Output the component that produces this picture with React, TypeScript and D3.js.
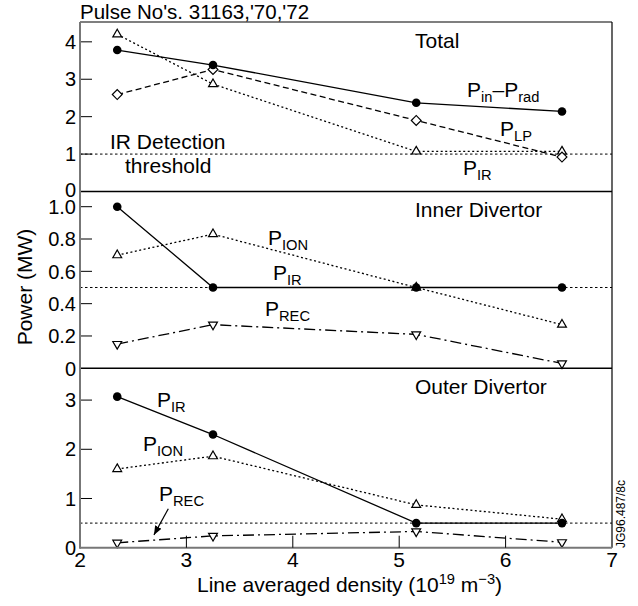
import React, { useEffect, useRef } from 'react';
import * as d3 from 'd3';

// density of the four pulses (10^19 m^-3)
const density = [2.35, 3.25, 5.16, 6.53];
const xTicks = [2, 3, 4, 5, 6, 7];

// Total
const totalPinPrad = [3.78, 3.38, 2.37, 2.14];
const totalPLP = [2.59, 3.26, 1.9, 0.92];
const totalPIR = [4.2, 2.87, 1.07, 1.07];
const totalTicks = [0, 1, 2, 3, 4];

// Inner divertor
const innerPIR = [1.0, 0.5, 0.5, 0.5];
const innerPION = [0.7, 0.83, 0.5, 0.27];
const innerPREC = [0.15, 0.27, 0.21, 0.03];
const innerTicks = [0, 0.2, 0.4, 0.6, 0.8, 1.0];

// Outer divertor
const outerPIR = [3.07, 2.3, 0.5, 0.5];
const outerPION = [1.6, 1.86, 0.87, 0.58];
const outerPREC = [0.1, 0.24, 0.33, 0.11];
const outerTicks = [0, 1, 2, 3];

const irThreshold = [1, 0.5, 0.5];

const FONT = "'Liberation Sans', Arial, Helvetica, sans-serif";
const LABEL = 21;

type Part = { t: string; sub?: boolean; sup?: boolean };

const App = () => {
  const svgRef = useRef<SVGSVGElement>(null);

  useEffect(() => {
    const width = 638;
    const height = 606;
    const left = 80;
    const right = 612;
    const top = 22;
    const bottom = 547.7;

    d3.select(svgRef.current).selectAll('*').remove();
    const svg = d3.select(svgRef.current)
      .attr('width', width)
      .attr('height', height)
      .attr('font-family', FONT);

    const x = d3.scaleLinear().domain([2, 7]).range([left, right]);

    // text with sub/superscripts
    const rich = (g: any, px: number, py: number, parts: Part[], size = LABEL, anchor = 'start') => {
      const t = g.append('text')
        .attr('x', px)
        .attr('y', py)
        .attr('font-size', size)
        .attr('text-anchor', anchor)
        .attr('fill', '#000');
      let shift = 0;
      parts.forEach(p => {
        const want = p.sub ? 5 : p.sup ? -8 : 0;
        const s = t.append('tspan').text(p.t).attr('dy', want - shift);
        if (p.sub || p.sup) s.attr('font-size', size * 0.7);
        shift = want;
      });
      return t;
    };

    const panels = [
      {
        max: 4.53, y0: 191.5, y1: top, ticks: totalTicks, fmt: (d: number) => String(d),
        threshold: irThreshold[0],
        series: [
          { values: totalPIR, dash: '2,2.5', marker: 'tri' },
          { values: totalPLP, dash: '6,3.5', marker: 'diamond' },
          { values: totalPinPrad, dash: null, marker: 'circle' },
        ],
      },
      {
        max: 1.094, y0: 368.3, y1: 191.5, ticks: innerTicks, fmt: (d: number) => (d === 0 ? '0' : d.toFixed(1)),
        threshold: irThreshold[1],
        series: [
          { values: innerPION, dash: '2,2.5', marker: 'tri' },
          { values: innerPREC, dash: '11,4,2,4', marker: 'triDown' },
          { values: innerPIR, dash: null, marker: 'circle' },
        ],
      },
      {
        max: 3.646, y0: bottom, y1: 368.3, ticks: outerTicks, fmt: (d: number) => String(d),
        threshold: irThreshold[2],
        series: [
          { values: outerPION, dash: '2,2.5', marker: 'tri' },
          { values: outerPREC, dash: '11,4,2,4', marker: 'triDown' },
          { values: outerPIR, dash: null, marker: 'circle' },
        ],
      },
    ];

    const triangle = d3.symbol().type(d3.symbolTriangle).size(34);
    const square = d3.symbol().type(d3.symbolSquare).size(48);

    const scales = panels.map((p, pi) => {
      const y = d3.scaleLinear().domain([0, p.max]).range([p.y0, p.y1]);
      const g = svg.append('g');

      // IR detection threshold
      g.append('line')
        .attr('x1', left).attr('x2', right)
        .attr('y1', y(p.threshold)).attr('y2', y(p.threshold))
        .attr('stroke', '#000')
        .attr('stroke-width', 1)
        .attr('stroke-dasharray', '2.5,2.5');

      // y ticks (inward) + labels
      p.ticks.forEach(t => {
        if (t > 0) {
          g.append('line')
            .attr('x1', left).attr('x2', left + 12)
            .attr('y1', y(t)).attr('y2', y(t))
            .attr('stroke', '#000')
            .attr('stroke-width', 1);
        }
        // the zero of the top panel sits just above the middle panel's 1.0
        const nudge = pi === 0 && t === 0 ? -2 : 0;
        g.append('text')
          .attr('x', left - 4)
          .attr('y', y(t) + nudge)
          .attr('dy', '0.36em')
          .attr('text-anchor', 'end')
          .attr('font-size', 20)
          .text(p.fmt(t));
      });

      const line = d3.line<number>()
        .x((d, i) => x(density[i]))
        .y(d => y(d));

      p.series.forEach(s => {
        g.append('path')
          .datum(s.values)
          .attr('d', line)
          .attr('fill', 'none')
          .attr('stroke', '#000')
          .attr('stroke-width', 1.3)
          .attr('stroke-dasharray', s.dash);
      });

      p.series.forEach(s => {
        s.values.forEach((v, i) => {
          const cx = x(density[i]);
          const cy = y(v);
          if (s.marker === 'circle') {
            g.append('circle').attr('cx', cx).attr('cy', cy).attr('r', 4.3).attr('fill', '#000');
          } else if (s.marker === 'tri') {
            g.append('path').attr('d', triangle()).attr('transform', `translate(${cx},${cy})`)
              .attr('fill', '#fff').attr('stroke', '#000').attr('stroke-width', 1.2);
          } else if (s.marker === 'triDown') {
            g.append('path').attr('d', triangle()).attr('transform', `translate(${cx},${cy}) rotate(180)`)
              .attr('fill', '#fff').attr('stroke', '#000').attr('stroke-width', 1.2);
          } else {
            g.append('path').attr('d', square()).attr('transform', `translate(${cx},${cy}) rotate(45)`)
              .attr('fill', '#fff').attr('stroke', '#000').attr('stroke-width', 1.2);
          }
        });
      });
      return y;
    });

    // frame
    svg.append('line').attr('x1', left).attr('x2', right).attr('y1', top).attr('y2', top)
      .attr('stroke', '#000').attr('stroke-width', 1.2);
    svg.append('line').attr('x1', right).attr('x2', right).attr('y1', top).attr('y2', bottom)
      .attr('stroke', '#000').attr('stroke-width', 1.2);
    [panels[0].y0, panels[1].y0].forEach(yy => {
      svg.append('line').attr('x1', left).attr('x2', right).attr('y1', yy).attr('y2', yy)
        .attr('stroke', '#000').attr('stroke-width', 1.5);
    });
    svg.append('line').attr('x1', left).attr('x2', left).attr('y1', top).attr('y2', bottom + 1)
      .attr('stroke', '#777').attr('stroke-width', 2);
    svg.append('line').attr('x1', left).attr('x2', right).attr('y1', bottom).attr('y2', bottom)
      .attr('stroke', '#777').attr('stroke-width', 2);

    // x ticks
    xTicks.forEach(t => {
      if (t > 2 && t < 7) {
        svg.append('line').attr('x1', x(t)).attr('x2', x(t)).attr('y1', bottom).attr('y2', bottom - 12)
          .attr('stroke', '#000').attr('stroke-width', 1);
      }
      svg.append('text')
        .attr('x', x(t))
        .attr('y', 567)
        .attr('text-anchor', 'middle')
        .attr('font-size', 21)
        .text(t);
    });

    // titles
    svg.append('text').attr('x', 80).attr('y', 18.5).attr('font-size', 20.5).text("Pulse No's. 31163,'70,'72");
    svg.append('text')
      .attr('transform', 'translate(32,287) rotate(-90)')
      .attr('text-anchor', 'middle')
      .attr('font-size', LABEL)
      .text('Power (MW)');
    rich(svg, 197, 592, [
      { t: 'Line averaged density (10' }, { t: '19', sup: true }, { t: ' m' }, { t: '\u22123', sup: true }, { t: ')' },
    ]);
    svg.append('text')
      .attr('transform', 'translate(625,548) rotate(-90)')
      .attr('font-size', 12)
      .text('JG96.487/8c');

    // panel annotations
    svg.append('text').attr('x', 415).attr('y', 48).attr('font-size', LABEL).text('Total');
    rich(svg, 467, 97, [{ t: 'P' }, { t: 'in', sub: true }, { t: '\u2013P' }, { t: 'rad', sub: true }]);
    rich(svg, 500, 136, [{ t: 'P' }, { t: 'LP', sub: true }]);
    rich(svg, 463, 175, [{ t: 'P' }, { t: 'IR', sub: true }]);
    svg.append('text').attr('x', 110).attr('y', 149).attr('font-size', LABEL).text('IR Detection');
    svg.append('text').attr('x', 125).attr('y', 173).attr('font-size', LABEL).text('threshold');

    svg.append('text').attr('x', 415).attr('y', 217).attr('font-size', LABEL).text('Inner Divertor');
    rich(svg, 268, 245, [{ t: 'P' }, { t: 'ION', sub: true }]);
    rich(svg, 273, 280, [{ t: 'P' }, { t: 'IR', sub: true }]);
    rich(svg, 265, 316, [{ t: 'P' }, { t: 'REC', sub: true }]);

    svg.append('text').attr('x', 415).attr('y', 394).attr('font-size', LABEL).text('Outer Divertor');
    rich(svg, 157, 407, [{ t: 'P' }, { t: 'IR', sub: true }]);
    rich(svg, 143, 451, [{ t: 'P' }, { t: 'ION', sub: true }]);
    rich(svg, 159, 501, [{ t: 'P' }, { t: 'REC', sub: true }]);

    // arrow from P_REC label to its curve
    svg.append('defs').append('marker')
      .attr('id', 'arrowHead')
      .attr('viewBox', '0 0 10 10')
      .attr('refX', 10).attr('refY', 5)
      .attr('markerWidth', 9).attr('markerHeight', 9)
      .attr('markerUnits', 'userSpaceOnUse')
      .attr('orient', 'auto')
      .append('path')
      .attr('d', 'M0,1 L10,5 L0,9 Z')
      .attr('fill', '#000');
    const yOut = scales[2];
    svg.append('line')
      .attr('x1', x(2.83)).attr('y1', yOut(0.79))
      .attr('x2', x(2.695)).attr('y2', yOut(0.26))
      .attr('stroke', '#000')
      .attr('stroke-width', 1.2)
      .attr('marker-end', 'url(#arrowHead)');
  }, []);

  return (
    <svg ref={svgRef} style={{ position: 'absolute', left: 0, top: 0 }} viewBox="0 0 638 606" />
  );
};

export default App;
